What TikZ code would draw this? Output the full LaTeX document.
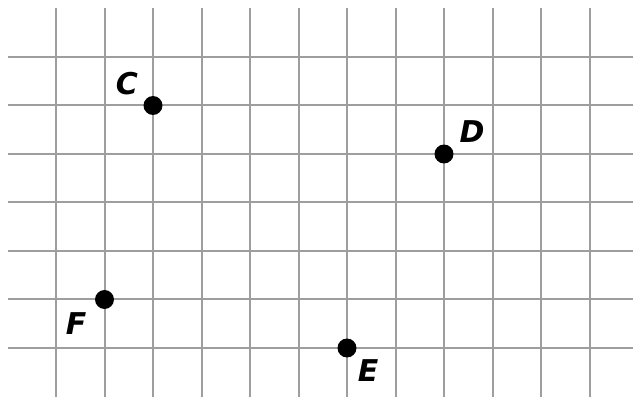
\documentclass[tikz,border=0pt]{standalone}
\usepackage{fontspec}
\newfontfamily\lblfont{DejaVu Sans Bold Oblique}
\begin{document}
\begin{tikzpicture}[x=0.75pt,y=-0.75pt,
  gridline/.style={draw=black!38, line width=1.5pt},
  dot/.style={circle, fill=black, inner sep=0pt, minimum size=14.2pt},
  lbl/.style={font=\lblfont\fontsize{22.5}{26}\selectfont, inner sep=0pt}]
\useasboundingbox (0,0) rectangle (633,399);
\foreach \k in {0,...,11} {
  \draw[gridline] ({56+48.5*\k},8) -- ({56+48.5*\k},397);
}
\foreach \k in {0,...,6} {
  \draw[gridline] (8,{57+48.5*\k}) -- (633,{57+48.5*\k});
}
\node[dot] (C) at (153,105.5) {};
\node[dot] (D) at (444,154) {};
\node[dot] (F) at (104.5,299.5) {};
\node[dot] (E) at (347,348) {};
\node[lbl] (lC) at (127,84) {C};
\node[lbl] (lD) at (472,132) {D};
\node[lbl] (lF) at (76,324) {F};
\node[lbl] (lE) at (368,371) {E};
\end{tikzpicture}
\end{document}
